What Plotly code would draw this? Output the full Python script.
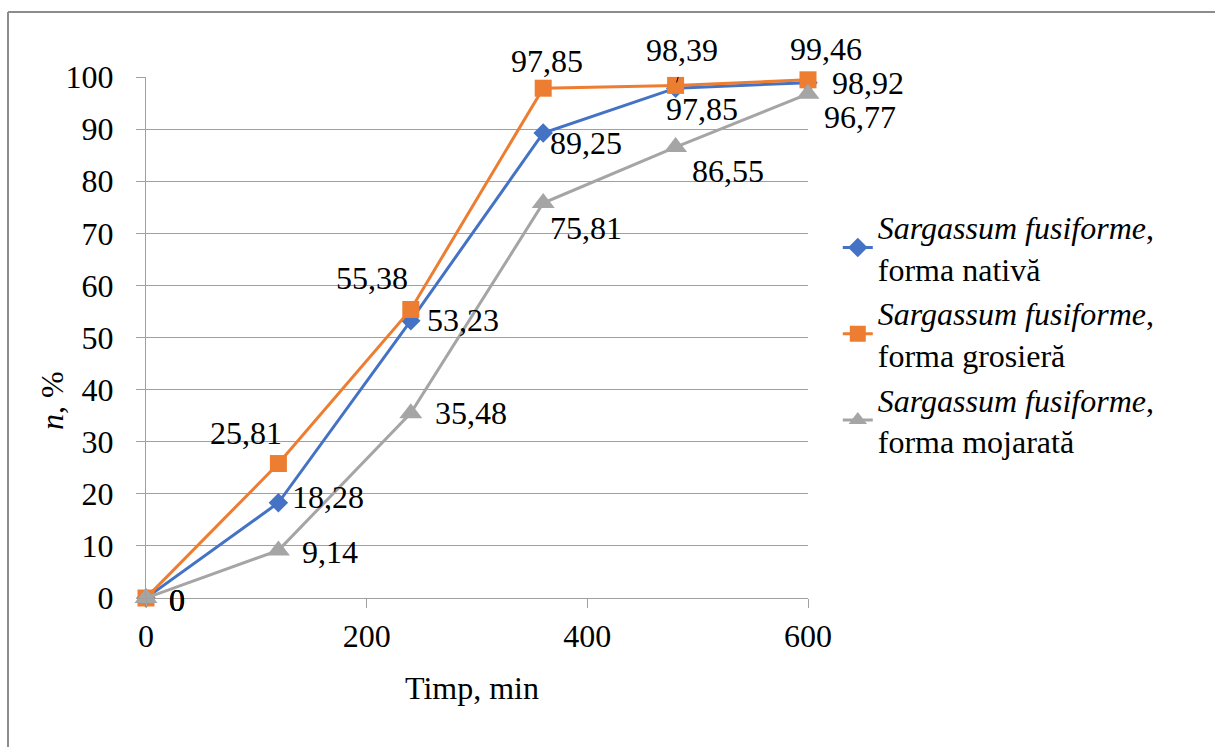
import plotly.graph_objects as go

# ---- data ----
time_min = [0, 120, 240, 360, 480, 600]
nativa = [0, 18.28, 53.23, 89.25, 97.85, 98.92]
grosiera = [0, 25.81, 55.38, 97.85, 98.39, 99.46]
mojarata = [0, 9.14, 35.48, 75.81, 86.55, 96.77]
series_names = [
    "<i>Sargassum fusiforme</i>,<br>forma nativă",
    "<i>Sargassum fusiforme</i>,<br>forma grosieră",
    "<i>Sargassum fusiforme</i>,<br>forma mojarată",
]
x_ticks = [0, 200, 400, 600]
y_ticks = [0, 10, 20, 30, 40, 50, 60, 70, 80, 90, 100]

# ---- styles ----
FONT = "Liberation Serif, Times New Roman, Times, serif"
FS = 32
colors = ["#4472C4", "#ED7D31", "#A5A5A5"]
symbols = ["diamond", "square", "triangle-up"]
msizes = [15, 17, 20]
# label offsets (pixels): (xshift, yshift) per point
offs_nativa = [(31, -2), (50, 6), (52, 1), (43, -10), (26, -21), (60, 0)]
offs_grosiera = [(31, -2), (-32, 31), (-39, 31), (4, 27), (6, 35), (18, 31)]
offs_mojarata = [(31, -2), (52, -2), (60, 0), (43, -25), (52, -24), (52, -23)]

fig = go.Figure()
all_series = [nativa, grosiera, mojarata]
all_offs = [offs_nativa, offs_grosiera, offs_mojarata]

for vals, name, c, sym, ms in zip(all_series, series_names, colors, symbols, msizes):
    fig.add_trace(go.Scatter(
        x=time_min, y=vals, name=name, mode="lines+markers",
        line=dict(color=c, width=3),
        marker=dict(symbol=sym, size=ms, color=c),
        cliponaxis=False,
    ))

def fmt(v):
    s = ("%.2f" % v).rstrip("0").rstrip(".")
    return s.replace(".", ",")

annotations = []
for vals, offs in zip(all_series, all_offs):
    for xv, yv, (dx, dy) in zip(time_min, vals, offs):
        annotations.append(dict(
            x=xv, y=yv, xref="x", yref="y", text=fmt(yv), showarrow=False,
            xanchor="center", yanchor="middle", xshift=dx, yshift=dy,
            font=dict(family=FONT, size=FS, color="black"),
        ))

annotations.append(dict(
    x=0.4924, y=-0.1727, xref="paper", yref="paper", text="Timp, min",
    showarrow=False, xanchor="center", yanchor="middle",
    font=dict(family=FONT, size=FS, color="black"),
))
annotations.append(dict(
    x=-0.142, y=0.38, xref="paper", yref="paper", text="<i>n</i>, %",
    showarrow=False, xanchor="center", yanchor="middle", textangle=-90,
    font=dict(family=FONT, size=FS, color="black"),
))

shapes = [
    # outer chart border (top and left visible)
    dict(type="line", xref="paper", yref="paper", x0=(8 - 146) / 662, x1=(1215 - 146) / 662,
         y0=(598 - 12) / 521, y1=(598 - 12) / 521, line=dict(color="#8c8c8c", width=2)),
    dict(type="line", xref="paper", yref="paper", x0=(8 - 146) / 662, x1=(8 - 146) / 662,
         y0=(598 - 12) / 521, y1=(598 - 747) / 521, line=dict(color="#8c8c8c", width=2)),
    # leader line for the 98,39 label
    dict(type="line", xref="x", yref="y", xsizemode="pixel", ysizemode="pixel",
         xanchor=time_min[4], yanchor=grosiera[4], x0=4, x1=1, y0=13, y1=3,
         line=dict(color="black", width=1)),
]

fig.update_layout(
    width=1215, height=747,
    margin=dict(l=146, r=407, t=77, b=149),
    paper_bgcolor="white", plot_bgcolor="white",
    font=dict(family=FONT, size=FS, color="black"),
    showlegend=True,
    legend=dict(
        x=1.045, y=0.765, xanchor="left", yanchor="top",
        font=dict(family=FONT, size=FS, color="black"),
        bgcolor="rgba(0,0,0,0)", tracegroupgap=10,
    ),
    annotations=annotations,
    shapes=shapes,
)
fig.update_xaxes(
    range=[0, 600], tickvals=x_ticks, ticktext=[str(v) for v in x_ticks],
    showgrid=False, zeroline=False, showline=True, linecolor="#a0a0a0", linewidth=1.3,
    ticks="outside", ticklen=9, tickcolor="#a0a0a0", tickwidth=1.3,
    tickfont=dict(family=FONT, size=FS, color="black"), ticklabelstandoff=0,
)
fig.update_yaxes(
    range=[0, 100], tickvals=y_ticks, ticktext=[str(v) for v in y_ticks],
    showgrid=True, gridcolor="#a0a0a0", gridwidth=1.3, zeroline=False,
    showline=True, linecolor="#a0a0a0", linewidth=1.3,
    ticks="outside", ticklen=9, tickcolor="#a0a0a0", tickwidth=1.3,
    tickfont=dict(family=FONT, size=FS, color="black"), ticklabelstandoff=16,
)

fig.write_html("out.html")
